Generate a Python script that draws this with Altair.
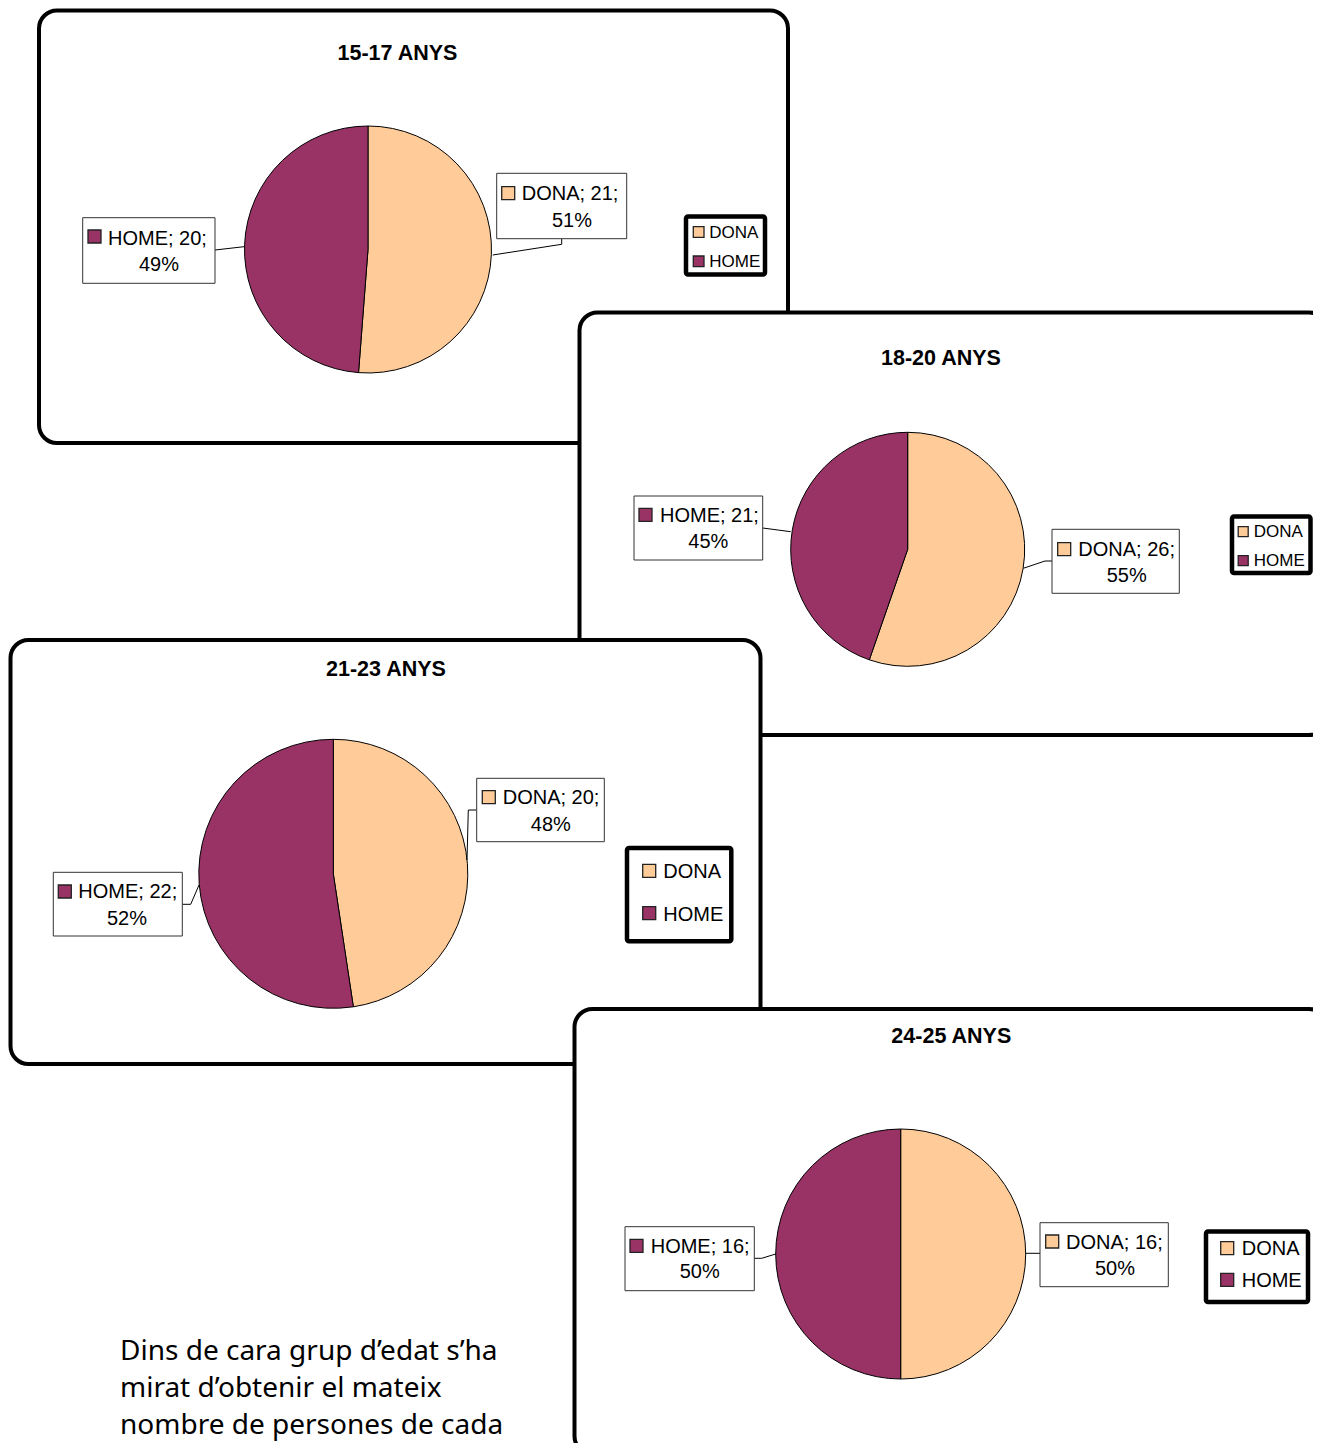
import math
import altair as alt
import pandas as pd

# ---------------- data (values) ----------------
groups = ["15-17 ANYS", "18-20 ANYS", "21-23 ANYS", "24-25 ANYS"]
sexes = ["DONA", "HOME"]
dona_counts = [21, 26, 20, 16]
home_counts = [20, 21, 22, 16]
sex_colors = ["#FFCC99", "#993366"]
note_lines = ["Dins de cara grup d\u2019edat s\u2019ha",
              "mirat d\u2019obtenir el mateix",
              "nombre de persones de cada"]

# ---------------- layout (page pixel coordinates) ----------------
W, H = 1305, 1435
panel_boxes = [(39, 10.5, 788, 443), (579.5, 312.5, 1327, 735),
               (10.5, 640, 760.5, 1064), (574.5, 1009, 1327, 1454)]
pie_geom = [(368, 249.5, 123.5), (907.7, 549.3, 117),
            (333.3, 873.8, 134.5), (900.7, 1254, 125)]
title_pos = [(397.5, 60), (941, 365), (386, 676), (951.3, 1043.3)]
# per group: {sex: (box, marker xy, text x, baseline1, pct x, baseline2, leader pts)}
label_geom = [
    {"HOME": ((82.7, 217.7, 215, 283.3), (88, 230), 108, 245, 159, 270.7,
              [(215, 250), (244, 246.7)]),
     "DONA": ((496.7, 173.3, 626.7, 238.7), (501.7, 186.7), 521.7, 200, 572, 226.7,
              [(561.7, 238.7), (561.7, 244.3), (492.7, 255)])},
    {"HOME": ((634, 496, 762.7, 560), (639, 508.3), 660, 521.7, 708.3, 548.3,
              [(762.7, 528), (790.7, 531.7)]),
     "DONA": ((1052, 529.3, 1179.3, 593.3), (1057.7, 542.7), 1078.3, 555.7, 1126.7, 581.7,
              [(1052, 561), (1045, 561), (1023.3, 568.3)])},
    {"HOME": ((53.3, 872.3, 182.3, 936), (58.3, 885), 78.3, 898.3, 127, 925,
              [(182.3, 904.3), (190.7, 904.3), (199, 885)]),
     "DONA": ((476.7, 778.3, 604.3, 841.7), (482.3, 790.7), 502.7, 804.3, 550.8, 831,
              [(476.7, 810), (468.3, 810), (467, 860)])},
    {"HOME": ((625, 1226.7, 754.3, 1290.7), (630, 1239.3), 650.7, 1253.3, 699.7, 1278.3,
              [(754.3, 1258.3), (761.7, 1258.3), (775.7, 1254)]),
     "DONA": ((1040, 1222.7, 1168.3, 1286.7), (1045.7, 1235), 1066, 1249.3, 1115, 1275,
              [(1040, 1253.3), (1026, 1253.3)])},
]
label_marker = 13
label_font = 20
# legends: box, marker size, font size, marker x, text x, [marker y top], [baselines]
legend_geom = [
    ((686, 216.5, 765, 274.5), 10.7, 17, 693.3, 709.3, [226.7, 256], [238.3, 266.7]),
    ((1232, 516.5, 1310.5, 573), 10, 17, 1238.2, 1253.8, [526.7, 555.7], [536.7, 565.7]),
    ((627, 848, 731.3, 941.3), 13, 20, 642.7, 663.3, [864.3, 906.7], [878.3, 921]),
    ((1206, 1231.5, 1308, 1302), 13, 20, 1220.7, 1241.7, [1241.7, 1273.3], [1255, 1287.3]),
]
note_x, note_baselines, note_size = 120, [1360, 1397, 1434], 28

# ---------------- tables ----------------
counts = {"DONA": dona_counts, "HOME": home_counts}
pie_rows, lab_left, lab_center, boxes, markers, leaders = [], [], [], [], [], []
for g, grp in enumerate(groups):
    total = dona_counts[g] + home_counts[g]
    cx, cy, r = pie_geom[g]
    for s, sex in enumerate(sexes):
        v = counts[sex][g]
        pie_rows.append({"group": grp, "sex": sex, "count": v, "order": s,
                         "x": cx, "y": cy, "r": r})
        box, mk, tx, b1, px, b2, pts = label_geom[g][sex]
        pct = round(100 * v / total)
        boxes.append({"x": box[0], "x2": box[2], "y": box[1], "y2": box[3]})
        markers.append({"sex": sex, "x": mk[0], "x2": mk[0] + label_marker,
                        "y": mk[1], "y2": mk[1] + label_marker})
        lab_left.append({"x": tx, "y": b1, "text": f"{sex}; {v};", "fs": label_font})
        lab_center.append({"x": px, "y": b2, "text": f"{pct}%", "fs": label_font})
        for i, (lx, ly) in enumerate(pts):
            leaders.append({"id": f"{g}-{sex}", "i": i, "x": lx, "y": ly})

leg_boxes, leg_markers, leg_text = [], [], []
for g in range(len(groups)):
    box, ms, fs, mx, tx, mys, bls = legend_geom[g]
    leg_boxes.append({"x": box[0], "x2": box[2], "y": box[1], "y2": box[3]})
    for s, sex in enumerate(sexes):
        leg_markers.append({"sex": sex, "x": mx, "x2": mx + ms, "y": mys[s], "y2": mys[s] + ms})
        leg_text.append({"x": tx, "y": bls[s], "text": sex, "fs": fs})

titles = [{"x": title_pos[g][0], "y": title_pos[g][1], "text": groups[g]} for g in range(len(groups))]
panels = [{"x": b[0], "x2": b[2], "y": b[1], "y2": b[3], "o": i} for i, b in enumerate(panel_boxes)]
notes = [{"x": note_x, "y": note_baselines[i], "text": t} for i, t in enumerate(note_lines)]

# ---------------- encodings ----------------
xs = alt.Scale(domain=[8, 8 + W], nice=False, zero=False)
ys = alt.Scale(domain=[8, 8 + H], nice=False, zero=False, reverse=True)
X = alt.X("x:Q", scale=xs, axis=None)
Y = alt.Y("y:Q", scale=ys, axis=None)
X2 = alt.X2("x2:Q")
Y2 = alt.Y2("y2:Q")
col = alt.Color("sex:N", scale=alt.Scale(domain=sexes, range=sex_colors), legend=None)

panel_layer = alt.Chart(pd.DataFrame(panels)).mark_rect(
    fill="white", stroke="black", strokeWidth=4, cornerRadius=18
).encode(x=X, x2=X2, y=Y, y2=Y2, order=alt.Order("o:Q"))

pie_layer = alt.Chart(pd.DataFrame(pie_rows)).transform_joinaggregate(
    total="sum(count)", groupby=["group"]
).transform_window(
    cum="sum(count)", groupby=["group"], sort=[alt.SortField("order")], frame=[None, 0]
).transform_calculate(
    t0="2*PI*(datum.cum - datum.count)/datum.total",
    t1="2*PI*datum.cum/datum.total",
).mark_arc(stroke="black", strokeWidth=1).encode(
    x=X, y=Y,
    theta=alt.Theta("t0:Q", scale=None), theta2=alt.Theta2("t1:Q"),
    radius=alt.Radius("r:Q", scale=None),
    color=col,
)

leader_layer = alt.Chart(pd.DataFrame(leaders)).mark_line(
    color="black", strokeWidth=1
).encode(x=X, y=Y, detail="id:N", order="i:Q")

box_layer = alt.Chart(pd.DataFrame(boxes)).mark_rect(
    fill="white", stroke="#333333", strokeWidth=1
).encode(x=X, x2=X2, y=Y, y2=Y2)

marker_layer = alt.Chart(pd.DataFrame(markers + leg_markers)).mark_rect(
    stroke="#222222", strokeWidth=1.3
).encode(x=X, x2=X2, y=Y, y2=Y2, color=col)

leg_box_layer = alt.Chart(pd.DataFrame(leg_boxes)).mark_rect(
    fill="white", stroke="black", strokeWidth=4.5, cornerRadius=2
).encode(x=X, x2=X2, y=Y, y2=Y2)

text_left = alt.Chart(pd.DataFrame(lab_left + leg_text)).mark_text(
    align="left", baseline="alphabetic", font="Liberation Sans", color="black"
).encode(x=X, y=Y, text="text:N", size=alt.Size("fs:Q", scale=None))

text_center = alt.Chart(pd.DataFrame(lab_center)).mark_text(
    align="center", baseline="alphabetic", font="Liberation Sans", color="black"
).encode(x=X, y=Y, text="text:N", size=alt.Size("fs:Q", scale=None))

title_layer = alt.Chart(pd.DataFrame(titles)).mark_text(
    align="center", baseline="alphabetic", font="Liberation Sans",
    fontWeight="bold", fontSize=21.5, color="black"
).encode(x=X, y=Y, text="text:N")

note_layer = alt.Chart(pd.DataFrame(notes)).mark_text(
    align="left", baseline="alphabetic", font="Noto Sans", fontSize=note_size, color="black"
).encode(x=X, y=Y, text="text:N")

chart = alt.layer(
    panel_layer, pie_layer, leader_layer, box_layer, leg_box_layer,
    marker_layer, text_left, text_center, title_layer, note_layer
).properties(
    width=W, height=H, padding=0, autosize=alt.AutoSizeParams(type="none"),
    background="white"
).configure_view(stroke=None)

chart.save("out.html", embed_options={"renderer": "svg", "actions": False})
